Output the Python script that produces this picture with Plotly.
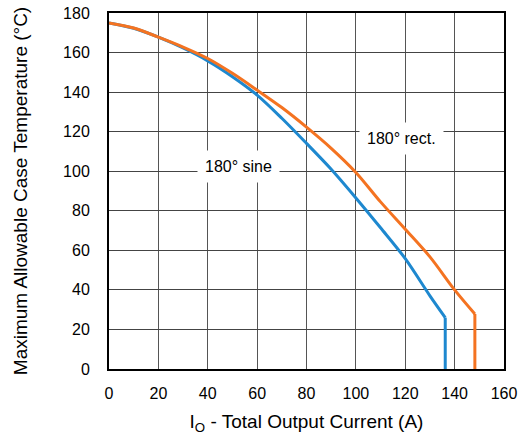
import plotly.graph_objects as go

# Data
sine_current = [0, 10, 20, 30, 40, 50, 60, 70, 80, 90, 100, 110, 120, 130, 136.2, 136.2]
sine_temp = [175, 172.3, 167.8, 162.3, 155.8, 147.8, 138.5, 126.8, 114.1, 101, 86.5, 71.4, 55.8, 37, 26, 0]
rect_current = [0, 10, 20, 30, 40, 50, 60, 70, 80, 90, 100, 110, 120, 130, 140, 148.2, 148.2]
rect_temp = [175, 172.4, 167.8, 162.8, 157, 149.5, 141, 132.2, 122.3, 111.6, 99.4, 84.5, 70.7, 56.7, 40, 27.8, 0]

x_ticks = [0, 20, 40, 60, 80, 100, 120, 140, 160]
y_ticks = [0, 20, 40, 60, 80, 100, 120, 140, 160, 180]

labels = ["180° sine", "180° rect."]
label_x = [52.4, 118.3]
label_y = [102.4, 116.3]

FONT = "Liberation Sans, Arial, sans-serif"
series = [(sine_current, sine_temp, "#1E88CF"), (rect_current, rect_temp, "#F47321")]

fig = go.Figure()
for xs, ys, col in series:
    # smooth derating curve up to the knee
    fig.add_trace(go.Scatter(x=xs[:-1], y=ys[:-1], mode="lines",
                             line=dict(color=col, width=3, shape="spline", smoothing=0.9),
                             showlegend=False, hoverinfo="skip"))
    # vertical drop at the current limit
    fig.add_trace(go.Scatter(x=xs[-2:], y=ys[-2:], mode="lines",
                             line=dict(color=col, width=3), showlegend=False,
                             hoverinfo="skip"))

for t, x, y in zip(labels, label_x, label_y):
    fig.add_annotation(x=x, y=y, text=t, showarrow=False, bgcolor="white",
                       borderpad=7, font=dict(family=FONT, size=16, color="black"))

fig.update_layout(
    width=524, height=435,
    margin=dict(l=109, r=20, t=13, b=66),
    paper_bgcolor="white", plot_bgcolor="white",
    font=dict(family=FONT, size=16, color="black"),
)
fig.update_xaxes(range=[0, 160], tickvals=x_ticks, ticks="", ticklabelstandoff=9,
                 showgrid=True, gridcolor="#555555", gridwidth=1, zeroline=False,
                 showline=True, linecolor="black", linewidth=2, mirror=True,
                 title=dict(text="I<sub>O</sub> - Total Output Current (A)", standoff=14),
                 automargin=False)
fig.update_yaxes(range=[0, 180], tickvals=y_ticks, ticks="", ticklabelstandoff=14,
                 showgrid=True, gridcolor="#444444", gridwidth=1, zeroline=False,
                 showline=True, linecolor="black", linewidth=2, mirror=True,
                 title=dict(text="Maximum Allowable Case Temperature (°C)", standoff=30),
                 automargin=False)

fig.write_html("out.html", config={"displayModeBar": False},
               post_script="document.body.style.margin='0';document.body.style.overflow='hidden';")
